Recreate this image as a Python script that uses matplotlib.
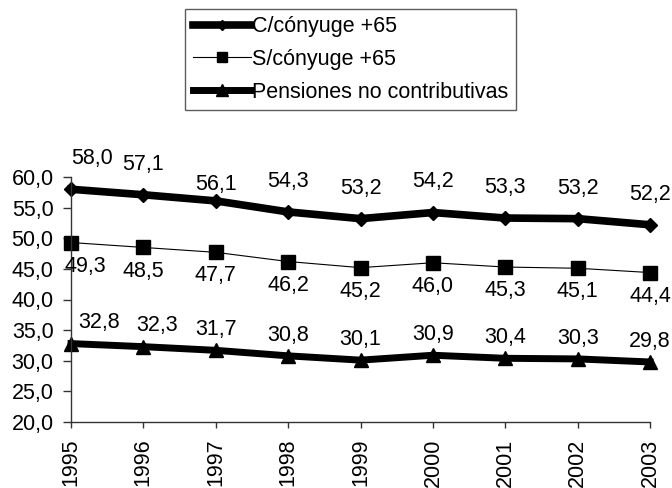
import matplotlib
matplotlib.use("Agg")
import matplotlib.pyplot as plt
from matplotlib.ticker import FuncFormatter, MultipleLocator

plt.rcParams['font.family'] = ['Liberation Sans', 'DejaVu Sans']

years = [1995, 1996, 1997, 1998, 1999, 2000, 2001, 2002, 2003]
c_conyuge = [58.0, 57.1, 56.1, 54.3, 53.2, 54.2, 53.3, 53.2, 52.2]
s_conyuge = [49.3, 48.5, 47.7, 46.2, 45.2, 46.0, 45.3, 45.1, 44.4]
pnc = [32.8, 32.3, 31.7, 30.8, 30.1, 30.9, 30.4, 30.3, 29.8]
labels = ["C/cónyuge +65", "S/cónyuge +65", "Pensiones no contributivas"]

fig = plt.figure(figsize=(6.72, 4.88), dpi=100)
ax = fig.add_axes([71/672, 1-422/488, (650-71)/672, (422-177)/488])

fs = 15.5
l1, = ax.plot(years, c_conyuge, color='black', lw=5.5, marker='D', ms=7,
              solid_joinstyle='miter', clip_on=False, label=labels[0])
l2, = ax.plot(years, s_conyuge, color='black', lw=0.8, marker='s', ms=9.5,
              clip_on=False, label=labels[1])
l3, = ax.plot(years, pnc, color='black', lw=5, marker='^', ms=10,
              clip_on=False, label=labels[2])

def fmt(v):
    return f"{v:.1f}".replace('.', ',')

for i, (x, v) in enumerate(zip(years, c_conyuge)):
    dx = 15 if i == 0 else 0
    dy = 22 if i != 2 else 12
    ax.annotate(fmt(v), (x, v), xytext=(dx, dy), textcoords='offset points',
                ha='center', va='center', fontsize=fs, annotation_clip=False)
for i, (x, v) in enumerate(zip(years, s_conyuge)):
    dx = 10 if i == 0 else 0
    ax.annotate(fmt(v), (x, v), xytext=(dx, -17), textcoords='offset points',
                ha='center', va='center', fontsize=fs, annotation_clip=False)
for i, (x, v) in enumerate(zip(years, pnc)):
    dx = 20 if i == 0 else (10 if i == 1 else 0)
    ax.annotate(fmt(v), (x, v), xytext=(dx, 15), textcoords='offset points',
                ha='center', va='center', fontsize=fs, annotation_clip=False)

ax.set_xlim(1995, 2003)
ax.set_ylim(20, 60)
ax.yaxis.set_major_locator(MultipleLocator(5))
ax.yaxis.set_major_formatter(FuncFormatter(lambda v, p: fmt(v)))
ax.set_xticks(years)
ax.set_xticklabels([str(y) for y in years], rotation=90)
ax.tick_params(axis='both', labelsize=fs, direction='out', width=1,
               color='#333333')
ax.tick_params(axis='y', length=5.5, pad=7)
ax.tick_params(axis='x', length=4, pad=8)
for s in ['top', 'right']:
    ax.spines[s].set_visible(False)
for s in ['left', 'bottom']:
    ax.spines[s].set_color('#333333')
    ax.spines[s].set_linewidth(1)

leg = fig.legend(handles=[l1, l2, l3], loc='center',
                 bbox_to_anchor=(350.5/672, 1-59.5/488), fontsize=fs,
                 frameon=True, fancybox=False, edgecolor='#333333',
                 handlelength=2.7, handletextpad=0.05, labelspacing=0.55,
                 borderpad=0.35, borderaxespad=0, markerscale=0.8)
leg.get_frame().set_linewidth(1)

fig.savefig("out.png", dpi=100)
